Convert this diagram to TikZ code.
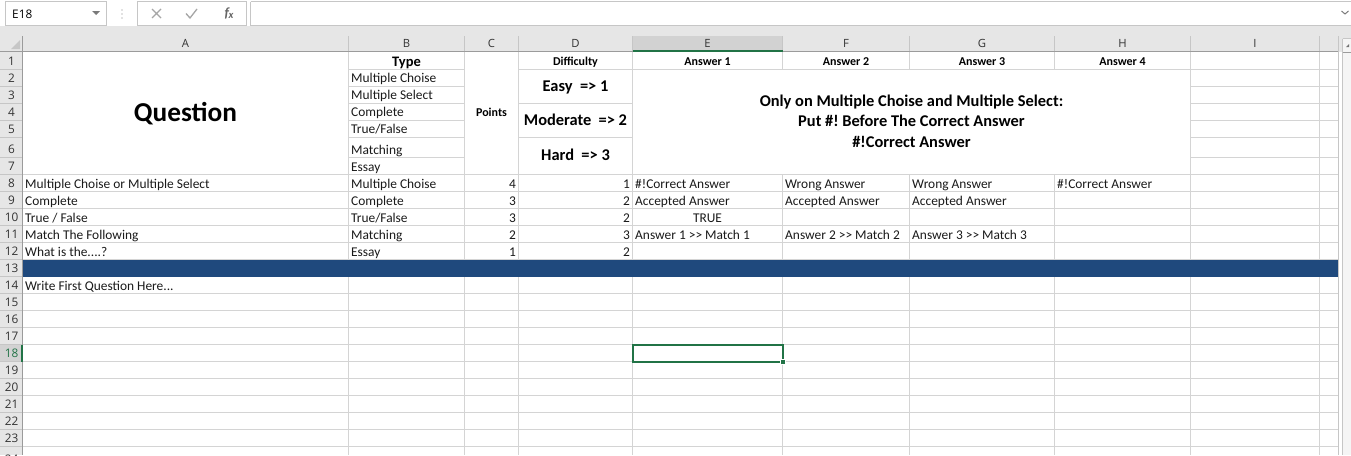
\documentclass[tikz,border=0pt]{standalone}
\usepackage{fontspec}
\setmainfont{Carlito}
\newfontfamily\uifont{Open Sans}
\frenchspacing
\definecolor{gridc}{HTML}{D4D4D4}
\definecolor{hdrbg}{HTML}{E6E6E6}
\definecolor{hdrsel}{HTML}{D2D2D2}
\definecolor{hdrline}{HTML}{C6C6C6}
\definecolor{hdrdark}{HTML}{9B9B9B}
\definecolor{xlgreen}{HTML}{217346}
\definecolor{xlblue}{HTML}{1F497D}
\definecolor{uigray}{HTML}{7A7A7A}
\definecolor{txt}{HTML}{1A1A1A}
\begin{document}
\begin{tikzpicture}[x=1pt,y=-1pt,
  cell/.style={inner sep=0pt,anchor=base west,text=txt,font=\fontsize{13.4}{15}\selectfont},
  num/.style={cell,anchor=base east},
  mid/.style={cell,anchor=base},
  hd/.style={inner sep=0pt,anchor=base,text=black,font=\bfseries\fontsize{12}{14}\selectfont},
  big/.style={inner sep=0pt,anchor=base,text=black,font=\bfseries\fontsize{16.4}{18}\selectfont},
  colh/.style={inner sep=0pt,anchor=base,text=black!80,font=\uifont\fontsize{11.3}{12}\selectfont},
  rowh/.style={inner sep=0pt,anchor=base,text=black!80,font=\uifont\fontsize{11.8}{12}\selectfont},
  gl/.style={draw=gridc,line width=1pt},
  hl/.style={draw=hdrline,line width=1pt}]
\useasboundingbox (0,0) rectangle (1351,455);
\fill[white] (0,0) rectangle (1351,455);
% ---------- formula bar ----------
\fill[white] (0,0) rectangle (1351,25);
\draw[hdrline] (5.5,1.5) rectangle (106.5,25.5);
\node[inner sep=0pt,anchor=base west,font=\uifont\fontsize{11.8}{13}\selectfont] (namebox) at (12,18) {E18};
\fill[uigray] (92,11) -- (100,11) -- (96,15) -- cycle;
\foreach \yy in {10,14,18} \fill[hdrline] (122,\yy) circle (0.9);
\draw[hdrline] (137.5,1.5) rectangle (246.5,25.5);
\draw[black!35,line width=1.1pt] (152,9) -- (161,18) (152,18) -- (161,9);
\draw[black!35,line width=1.3pt] (186,13.5) -- (190,18) -- (197,9);
\node[inner sep=0pt,anchor=base,font=\itshape\bfseries\fontsize{14}{16}\selectfont,text=black!60] (fx) at (229,17.5) {f\kern-0.5pt\raisebox{-1pt}{\fontsize{10.5}{11}\selectfont x}};
\draw[hdrline] (250.5,1.5) -- (1351,1.5);
\draw[hdrline] (250.5,1.5) -- (250.5,25.5) -- (1351,25.5);
\draw[uigray,line width=1pt] (1341.5,11) -- (1345,14) -- (1348.5,11);
% ---------- header bands ----------
\fill[hdrbg] (0,26) rectangle (1351,51.5);
\fill[hdrbg] (0,51.5) rectangle (22.5,455);
\fill[hdrsel] (632.5,36) rectangle (782.5,51.5);
\fill[hdrsel] (0,344.5) rectangle (22.5,361.5);
% corner triangle
\fill[hdrline] (20,40) -- (20,49) -- (11,49) -- cycle;
% column separators
\foreach \xx in {22.5,348.5,464.5,518.5,632.5,782.5,909.5,1054.5,1190.5,1319.5}
  \draw[hl] (\xx,36) -- (\xx,51.5);
% row separators
\foreach \yy in {69,86,103,120,137,157.5,174.5,191.5,208.5,225.5,242.5,259.5,276.5,293.5,310.5,327.5,344.5,361.5,378.5,395.5,412.5,429.5,446.5}
  \draw[hl] (0,\yy) -- (22.5,\yy);
\draw[hdrdark] (0,51.5) -- (1338,51.5);
\draw[hdrdark] (22.5,36) -- (22.5,455);
\draw[xlgreen,line width=2pt] (632.5,50.5) -- (782.5,50.5);
\draw[xlgreen,line width=2pt] (21.5,344.5) -- (21.5,361.5);
% column letters
\node[colh] (hA) at (185.5,47.5) {A};
\node[colh] (hB) at (406.5,47.5) {B};
\node[colh] (hC) at (491.5,47.5) {C};
\node[colh] (hD) at (575.5,47.5) {D};
\node[colh] (hE) at (707.5,47.5) {E};
\node[colh] (hF) at (846,47.5) {F};
\node[colh] (hG) at (982,47.5) {G};
\node[colh] (hH) at (1122.5,47.5) {H};
\node[colh] (hI) at (1255,47.5) {I};
% row numbers
\foreach \n/\yb in {1/69,2/86,3/103,4/120,5/137,6/157.5,7/174.5,8/191.5,9/208.5,10/225.5,11/242.5,12/259.5,13/276.5,14/293.5,15/310.5,16/327.5,17/344.5,19/378.5,20/395.5,21/412.5,22/429.5,23/446.5}
  \node[rowh] (r\n) at (11.5,\yb-4) {\n};
\node[rowh,text=xlgreen] (r18) at (11.5,357.5) {18};
\begin{scope}
\clip (0,446.5) rectangle (22.5,455);
\node[rowh] (r24) at (11.5,463.5) {24};
\end{scope}
% ---------- gridlines ----------
\foreach \yy in {69,86,103,120,137,157.5} {
  \draw[gl] (348.5,\yy) -- (464.5,\yy);
  \draw[gl] (1190.5,\yy) -- (1338,\yy);
}
\foreach \yy in {69,103,137} \draw[gl] (518.5,\yy) -- (632.5,\yy);
\draw[gl] (632.5,69) -- (1190.5,69);
\foreach \yy in {174.5,191.5,208.5,225.5,242.5,259.5,276.5,293.5,310.5,327.5,344.5,361.5,378.5,395.5,412.5,429.5,446.5}
  \draw[gl] (22.5,\yy) -- (1338,\yy);
\foreach \xx in {348.5,464.5,518.5,632.5,1190.5,1319.5}
  \draw[gl] (\xx,51.5) -- (\xx,455);
\foreach \xx in {782.5,909.5,1054.5} {
  \draw[gl] (\xx,51.5) -- (\xx,69);
  \draw[gl] (\xx,174.5) -- (\xx,455);
}
\draw[hdrline,line width=1pt] (1338,36) -- (1338,455);
% ---------- scrollbar ----------
\fill[black!4] (1342.5,38.5) rectangle (1351,455);
\draw[hdrline] (1342.5,38.5) -- (1342.5,455);
\draw[hdrline] (1342.5,38.5) -- (1351,38.5);
\draw[hdrdark] (1342.5,52.5) -- (1351,52.5);
\fill[black!55] (1346,47) -- (1349,44) -- (1349,47) -- cycle;
% ---------- blue row ----------
\fill[xlblue] (22.5,259.5) rectangle (1338,276.5);
% ---------- header block texts ----------
\node[inner sep=0pt,anchor=base,font=\bfseries\fontsize{27.3}{30}\selectfont] (question) at (185.5,121.5) {Question};
\node[inner sep=0pt,anchor=base,font=\bfseries\fontsize{14.5}{16}\selectfont] (type) at (406.5,66) {Type};
\node[cell] (t1) at (351,82.8) {Multiple Choise};
\node[cell] (t2) at (351,99.8) {Multiple Select};
\node[cell] (t3) at (351,116.8) {Complete};
\node[cell] (t4) at (351,133.8) {True/False};
\node[cell] (t5) at (351,154.2) {Matching};
\node[cell] (t6) at (351,171.2) {Essay};
\node[hd] (points) at (491.5,116.5) {Points};
\node[hd] (difficulty) at (575.5,65.5) {Difficulty};
\node[big] (easy) at (575.5,91.7) {Easy\ \ => 1};
\node[big] (moderate) at (575.5,125.3) {Moderate\ \ => 2};
\node[big] (hard) at (575.5,160.3) {Hard\ \ => 3};
\node[hd] (ans1) at (707.5,65.5) {Answer 1};
\node[hd] (ans2) at (846,65.5) {Answer 2};
\node[hd] (ans3) at (982,65.5) {Answer 3};
\node[hd] (ans4) at (1122.5,65.5) {Answer 4};
\node[big] (note1) at (911.5,106) {Only on Multiple Choise and Multiple Select:};
\node[big] (note2) at (911.5,126.7) {Put \#! Before The Correct Answer};
\node[big] (note3) at (911.5,147.3) {\#!Correct Answer};
% ---------- data rows ----------
\node[cell] (a8) at (25,188.2) {Multiple Choise or Multiple Select};
\node[cell] (b8) at (351,188.2) {Multiple Choise};
\node[num] (c8) at (516,188.2) {4};
\node[num] (d8) at (630,188.2) {1};
\node[cell] (e8) at (635,188.2) {\#!Correct Answer};
\node[cell] (f8) at (785,188.2) {Wrong Answer};
\node[cell] (g8) at (912,188.2) {Wrong Answer};
\node[cell] (h8) at (1057,188.2) {\#!Correct Answer};
\node[cell] (a9) at (25,205.2) {Complete};
\node[cell] (b9) at (351,205.2) {Complete};
\node[num] (c9) at (516,205.2) {3};
\node[num] (d9) at (630,205.2) {2};
\node[cell] (e9) at (635,205.2) {Accepted Answer};
\node[cell] (f9) at (785,205.2) {Accepted Answer};
\node[cell] (g9) at (912,205.2) {Accepted Answer};
\node[cell] (a10) at (25,222.2) {True / False};
\node[cell] (b10) at (351,222.2) {True/False};
\node[num] (c10) at (516,222.2) {3};
\node[num] (d10) at (630,222.2) {2};
\node[mid] (e10) at (707.5,222.2) {TRUE};
\node[cell] (a11) at (25,239.2) {Match The Following};
\node[cell] (b11) at (351,239.2) {Matching};
\node[num] (c11) at (516,239.2) {2};
\node[num] (d11) at (630,239.2) {3};
\node[cell] (e11) at (635,239.2) {Answer 1 >{}> Match 1};
\node[cell] (f11) at (785,239.2) {Answer 2 >{}> Match 2};
\node[cell] (g11) at (912,239.2) {Answer 3 >{}> Match 3};
\node[cell] (a12) at (25,256.2) {What is the....?};
\node[cell] (b12) at (351,256.2) {Essay};
\node[num] (c12) at (516,256.2) {1};
\node[num] (d12) at (630,256.2) {2};
\node[cell] (a14) at (25,290.2) {Write First Question Here...};
% ---------- selected cell ----------
\draw[xlgreen,line width=2pt] (632.5,344.5) rectangle (782.5,361.5);
\fill[white] (779.5,358.5) rectangle (785.5,364.5);
\fill[xlgreen] (780.5,359.5) rectangle (784.5,363.5);
\end{tikzpicture}
\end{document}
